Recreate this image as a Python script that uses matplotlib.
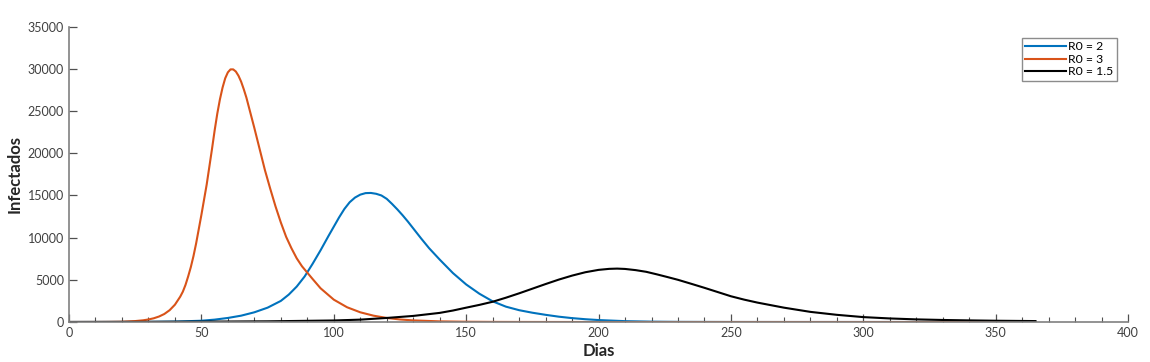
# SIR-type infection curves for three values of R0
import matplotlib.pyplot as plt
from matplotlib.ticker import MultipleLocator

plt.rcParams['font.family'] = ['Lato', 'DejaVu Sans']

# R0 = 2 (blue)
dias_r2 = [0, 20, 30, 40, 50, 55, 60, 65, 70, 75, 80, 83, 86, 89, 92, 95, 98,
           100, 102, 104, 106, 108, 110, 112, 114, 116, 118, 120, 122, 124, 126,
           128, 130, 133, 136, 140, 145, 150, 155, 160, 165, 170, 175, 180, 185,
           190, 195, 200, 210, 220, 230, 250, 270, 365]
inf_r2 = [0, 5, 15, 50, 150, 280, 480, 750, 1150, 1700, 2500, 3250, 4200, 5400,
          6900, 8500, 10200, 11300, 12400, 13400, 14200, 14750, 15100, 15280,
          15300, 15200, 15000, 14600, 14000, 13350, 12650, 11900, 11100, 9900,
          8750, 7400, 5800, 4450, 3350, 2450, 1820, 1400, 1100, 850, 630, 460,
          330, 230, 100, 40, 14, 2, 0, 0]

# R0 = 3 (orange)
dias_r3 = [0, 10, 15, 20, 25, 28, 30, 32, 34, 36, 38, 40, 42, 43, 44, 45, 46,
           47, 48, 49, 50, 51, 52, 53, 54, 55, 56, 57, 58, 59, 60, 61, 62, 63,
           64, 65, 66, 67, 68, 69, 70, 72, 74, 76, 78, 80, 82, 84, 86, 88, 90,
           92, 95, 100, 105, 110, 115, 120, 125, 130, 140, 150, 160, 170, 180,
           200, 365]
inf_r3 = [0, 3, 10, 30, 110, 200, 300, 440, 650, 950, 1400, 2050, 3000, 3600,
          4400, 5400, 6500, 7800, 9300, 11000, 12700, 14500, 16300, 18400, 20500,
          22700, 24700, 26400, 27800, 28900, 29600, 29950, 29950, 29700, 29200,
          28500, 27600, 26600, 25400, 24200, 23000, 20500, 18000, 15800, 13700,
          11800, 10100, 8750, 7550, 6600, 5850, 5100, 4000, 2650, 1750, 1150,
          750, 480, 300, 190, 75, 30, 12, 5, 2, 0, 0]

# R0 = 1.5 (black)
dias_r15 = [0, 25, 50, 75, 100, 110, 120, 130, 140, 145, 150, 155, 160, 165,
            170, 175, 180, 185, 190, 195, 200, 204, 207, 210, 214, 218, 222,
            226, 230, 235, 240, 245, 250, 255, 260, 270, 280, 290, 300, 310,
            320, 330, 340, 350, 365]
inf_r15 = [5, 15, 40, 80, 180, 280, 480, 720, 1080, 1360, 1700, 2030, 2400,
           2880, 3400, 3950, 4500, 5030, 5500, 5900, 6180, 6300, 6330, 6290,
           6150, 5950, 5650, 5330, 5000, 4530, 4050, 3550, 3050, 2650, 2300,
           1700, 1200, 850, 580, 420, 310, 240, 190, 150, 110]

fig = plt.figure(figsize=(11.5, 3.62), dpi=100)
ax = fig.add_axes([0.06, 0.1105, 0.921, 0.8155])

ax.plot(dias_r2, inf_r2, color='#0072BD', lw=1.5, label='R0 = 2')
ax.plot(dias_r3, inf_r3, color='#D95319', lw=1.5, label='R0 = 3')
ax.plot(dias_r15, inf_r15, color='black', lw=1.5, label='R0 = 1.5')

ax.set_xlim(0, 400)
ax.set_ylim(0, 35000)
ax.xaxis.set_major_locator(MultipleLocator(50))
ax.xaxis.set_minor_locator(MultipleLocator(10))
ax.yaxis.set_major_locator(MultipleLocator(5000))

for s in ['top', 'right']:
    ax.spines[s].set_visible(False)
for s in ['left', 'bottom']:
    ax.spines[s].set_color('#808080')
    ax.spines[s].set_linewidth(1.2)

ax.tick_params(which='major', direction='in', length=6, width=0.9,
               color='#505050', labelsize=9, labelcolor='#404040')
ax.tick_params(which='minor', direction='in', length=3.5, width=0.8,
               color='#505050')

ax.set_xlabel('Dias', fontsize=12, fontweight='bold', color='#262626', labelpad=3)
ax.set_ylabel('Infectados', fontsize=12, fontweight='bold', color='#262626', labelpad=4)

leg = ax.legend(loc='upper right', bbox_to_anchor=(0.9896, 0.963), fontsize=8.8,
                fancybox=False, handlelength=3.3, handletextpad=0.2,
                borderpad=0.3, labelspacing=0.12, borderaxespad=0)
leg.get_frame().set_edgecolor('#707070')
leg.get_frame().set_linewidth(1.0)

plt.savefig('out.png', dpi=100)
